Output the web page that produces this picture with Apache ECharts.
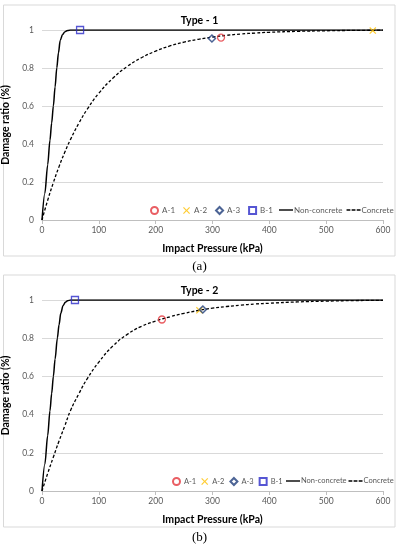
<!DOCTYPE html>
<html><head><meta charset="utf-8">
<script src="https://cdn.jsdelivr.net/npm/echarts@6/dist/echarts.min.js"></script>
<style>html,body{margin:0;padding:0;background:#fff}#c{width:399px;height:550px}</style>
</head><body><div id="c"></div>
<script>
// ---- data ----
const titles = ['Type - 1', 'Type - 2'];
const panelLabels = ['(a)', '(b)'];
const xTicks = [0, 100, 200, 300, 400, 500, 600];
const yTicks = [0, 0.2, 0.4, 0.6, 0.8, 1];
const markerNames = ['A-1', 'A-2', 'A-3', 'B-1'];
const lineNames = ['Non-concrete', 'Concrete'];

// Type 1
const nonConcrete1X = [0, 5, 10, 14, 17, 20, 23, 26, 29, 32, 36, 40, 45, 50, 60, 600];
const nonConcrete1Y = [0, 0.14, 0.29, 0.42, 0.51, 0.6, 0.7, 0.8, 0.88, 0.945, 0.975, 0.99, 0.997, 1, 1, 1];
const concrete1X = [0, 10, 20, 30, 40, 50, 65, 80, 100, 125, 150, 175, 200, 225, 250, 275, 300, 325, 350, 375, 400, 450, 500, 550, 600];
const concrete1Y = [0, 0.104, 0.197, 0.281, 0.356, 0.423, 0.51, 0.585, 0.667, 0.747, 0.808, 0.854, 0.889, 0.916, 0.936, 0.951, 0.963, 0.972, 0.979, 0.984, 0.988, 0.993, 0.996, 0.998, 0.999];
const a1_1 = [315, 0.96];
const a2_1 = [582, 0.997];
const a3_1 = [299, 0.955];
const b1_1 = [67, 1];

// Type 2
const nonConcrete2X = [0, 5, 10, 14, 17, 20, 23, 27, 30, 33, 37, 41, 45, 50, 60, 600];
const nonConcrete2Y = [0, 0.14, 0.29, 0.42, 0.51, 0.6, 0.69, 0.8, 0.87, 0.93, 0.97, 0.988, 0.996, 1, 1, 1];
const concrete2X = [0, 10, 20, 30, 40, 50, 65, 80, 100, 125, 150, 175, 200, 225, 250, 275, 300, 325, 350, 375, 400, 450, 500, 550, 600];
const concrete2Y = [0, 0.092, 0.178, 0.262, 0.34, 0.42, 0.51, 0.59, 0.675, 0.76, 0.82, 0.862, 0.89, 0.912, 0.93, 0.945, 0.957, 0.966, 0.973, 0.979, 0.983, 0.99, 0.994, 0.997, 0.998];
const a1_2 = [211, 0.898];
const a2_2 = [277, 0.946];
const a3_2 = [283, 0.95];
const b1_2 = [58, 1];

// ---- build ----
const FONT = 'Lato';
const zip = (xs, ys) => xs.map((x, i) => [x, ys[i]]);
const grids = [
  {left: 42, right: 16, top: 30, height: 190, outerBoundsMode: 'none', containLabel: false},
  {left: 42, right: 16, top: 300, height: 191, outerBoundsMode: 'none', containLabel: false}
];
function xAx(i) {
  return {
    type: 'value', gridIndex: i, min: 0, max: 600, interval: 100,
    name: 'Impact Pressure (kPa)', nameLocation: 'middle', nameGap: 23,
    nameTextStyle: {fontFamily: FONT, fontWeight: 'bold', fontSize: 10.5, color: '#000'},
    axisLine: {lineStyle: {color: '#BFBFBF'}},
    axisTick: {show: true, length: 4, lineStyle: {color: '#BFBFBF'}},
    axisLabel: {fontFamily: FONT, fontSize: 8.5, color: '#595959', margin: 6},
    splitLine: {show: false}
  };
}
function yAx(i) {
  return {
    type: 'value', gridIndex: i, min: 0, max: 1, interval: 0.2,
    name: 'Damage ratio (%)', nameLocation: 'middle', nameGap: 25, nameRotate: 90,
    nameTextStyle: {fontFamily: FONT, fontWeight: 'bold', fontSize: 10.5, color: '#000'},
    axisLine: {show: false}, axisTick: {show: false},
    axisLabel: {fontFamily: FONT, fontSize: 8.5, color: '#595959', margin: 8,
      formatter: v => String(+v.toFixed(1))},
    splitLine: {lineStyle: {color: '#D9D9D9'}}
  };
}
const XPATH = 'path://M0,1.2L1.2,0L5,3.8L8.8,0L10,1.2L6.2,5L10,8.8L8.8,10L5,6.2L1.2,10L0,8.8L3.8,5Z';
function solidIcon(w) { return 'path://M0,0M0,2.8h' + w + 'v1.4h-' + w + 'zM' + w + ',7'; }
function dashIcon(w) {
  const d = w / 11 * 3, g = (w - 3 * d) / 2;
  return 'path://M0,0M0,2.8h' + d + 'v1.4h-' + d + 'zM' + (d + g) + ',2.8h' + d + 'v1.4h-' + d +
    'zM' + (w - d) + ',2.8h' + d + 'v1.4h-' + d + 'zM' + w + ',7';
}
function seriesFor(i, nX, nY, cX, cY, a1, a2, a3, b1) {
  return [
    {name: 'Non-concrete', type: 'line', xAxisIndex: i, yAxisIndex: i, data: zip(nX, nY),
      smooth: 0.3, smoothMonotone: 'x', symbol: 'none', lineStyle: {color: '#000', width: 1.5}, itemStyle: {color: '#000'}, z: 2},
    {name: 'Concrete', type: 'line', xAxisIndex: i, yAxisIndex: i, data: zip(cX, cY),
      smooth: 0.5, symbol: 'none', lineStyle: {color: '#000', width: 1.3, type: [3, 2]}, itemStyle: {color: '#000'}, z: 2},
    {name: 'A-1', type: 'scatter', xAxisIndex: i, yAxisIndex: i, data: [a1], symbol: 'circle', symbolSize: 7,
      itemStyle: {color: 'rgba(255,255,255,0)', borderColor: '#E4363C', borderWidth: 1.3}, z: 3},
    {name: 'A-2', type: 'scatter', xAxisIndex: i, yAxisIndex: i, data: [a2], symbol: XPATH, symbolSize: 7,
      itemStyle: {color: '#FFC000'}, z: 3},
    {name: 'A-3', type: 'scatter', xAxisIndex: i, yAxisIndex: i, data: [a3], symbol: 'diamond', symbolSize: 7,
      itemStyle: {color: 'rgba(255,255,255,0)', borderColor: '#1F3D7A', borderWidth: 1.5}, z: 3},
    {name: 'B-1', type: 'scatter', xAxisIndex: i, yAxisIndex: i, data: [b1], symbol: 'rect', symbolSize: 7,
      itemStyle: {color: 'rgba(255,255,255,0)', borderColor: '#2B2BC8', borderWidth: 1.3}, z: 3}
  ];
}
function markerLegend(top, left, gap, fs) {
  return {top: top, left: left, itemGap: gap, itemWidth: 7, itemHeight: 7, padding: 0, width: 200,
    data: markerNames, selectedMode: false,
    textStyle: {fontFamily: FONT, fontSize: fs, color: '#595959', padding: [0, 0, 0, -1]}};
}
function lineLegend(top, left, gap, w1, w2, fs) {
  return {top: top, left: left, itemGap: gap, itemWidth: Math.max(w1, w2), itemHeight: 7, padding: 0, width: 200,
    selectedMode: false,
    data: [{name: lineNames[0], icon: solidIcon(w1)}, {name: lineNames[1], icon: dashIcon(w2)}],
    textStyle: {fontFamily: FONT, fontSize: fs, color: '#595959', padding: [0, 0, 0, -4]}};
}
const option = {
  animation: false,
  backgroundColor: '#fff',
  title: [
    {text: titles[0], left: 'center', top: 10, textStyle: {fontFamily: FONT, fontWeight: 'bold', fontSize: 10.5, color: '#000'}},
    {text: titles[1], left: 'center', top: 280, textStyle: {fontFamily: FONT, fontWeight: 'bold', fontSize: 10.5, color: '#000'}}
  ],
  grid: grids,
  xAxis: [xAx(0), xAx(1)],
  yAxis: [yAx(0), yAx(1)],
  legend: [markerLegend(206, 150, 8, 8), lineLegend(206, 279, 4, 14, 14, 8),
           markerLegend(477, 172, 5, 7.5), lineLegend(477, 286, 2, 14, 14, 7.5)],
  series: [].concat(
    seriesFor(0, nonConcrete1X, nonConcrete1Y, concrete1X, concrete1Y, a1_1, a2_1, a3_1, b1_1),
    seriesFor(1, nonConcrete2X, nonConcrete2Y, concrete2X, concrete2Y, a1_2, a2_2, a3_2, b1_2)
  ),
  graphic: [
    {type: 'rect', shape: {x: 3.5, y: 5, width: 391.5, height: 251}, style: {fill: 'none', stroke: '#D9D9D9', lineWidth: 1}, silent: true},
    {type: 'rect', shape: {x: 3.5, y: 275, width: 391.5, height: 252}, style: {fill: 'none', stroke: '#D9D9D9', lineWidth: 1}, silent: true},
    {type: 'text', left: 'center', top: 260, style: {text: panelLabels[0], font: '13px "Liberation Serif"', fill: '#000'}},
    {type: 'text', left: 'center', top: 531, style: {text: panelLabels[1], font: '13px "Liberation Serif"', fill: '#000'}}
  ]
};
echarts.init(document.getElementById('c')).setOption(option);
</script>
</body></html>
